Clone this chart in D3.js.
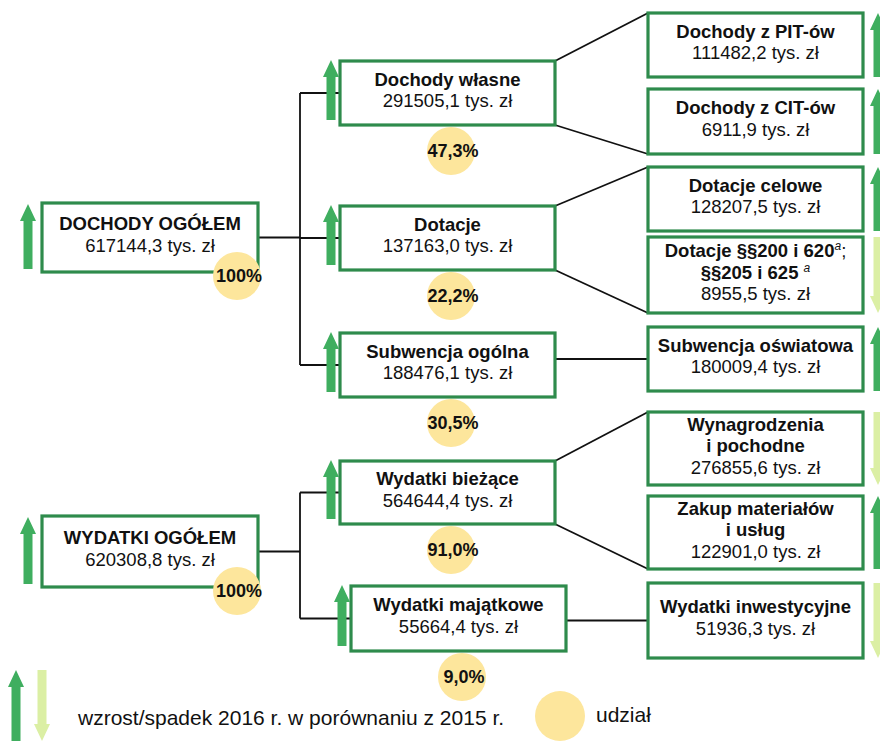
<!DOCTYPE html>
<meta charset="utf-8">
<script src="https://d3js.org/d3.v7.min.js"></script>
<style type="text/css">
  body { margin: 0; background: #fff; }
  text { font-family: "Liberation Sans", Arial, sans-serif; fill: #111; }
</style>
<body>
</body>
<script>

// ---- data: budget tree, values in tys. zł, share in % ----
var totalNames = ["DOCHODY OGÓŁEM", "WYDATKI OGÓŁEM"];
var totalValues = [617144.3, 620308.8];
var totalShares = [100, 100];
var totalTrend = ["up", "up"];

var groupNames = ["Dochody własne", "Dotacje", "Subwencja ogólna", "Wydatki bieżące", "Wydatki majątkowe"];
var groupValues = [291505.1, 137163.0, 188476.1, 564644.4, 55664.4];
var groupShares = [47.3, 22.2, 30.5, 91.0, 9.0];
var groupTrend = ["up", "up", "up", "up", "up"];
var groupParent = [0, 0, 0, 1, 1];

// each name is a list of lines; [text, "sup"] marks a superscript footnote
var itemNames = [
  ["Dochody z PIT-ów"],
  ["Dochody z CIT-ów"],
  ["Dotacje celowe"],
  [[["Dotacje §§200 i 620"], ["a", "sup"], [";", "thin"]], [["§§205 i 625 "], ["a", "sup"]]],
  ["Subwencja oświatowa"],
  ["Wynagrodzenia", "i pochodne"],
  ["Zakup materiałów", "i usług"],
  ["Wydatki inwestycyjne"]
];
var itemValues = [111482.2, 6911.9, 128207.5, 8955.5, 180009.4, 276855.6, 122901.0, 51936.3];
var itemTrend = ["up", "up", "up", "down", "up", "down", "up", "down"];
var itemParent = [0, 0, 1, 1, 2, 3, 3, 4];

var legendTrendText = "wzrost/spadek 2016 r. w porównaniu z 2015 r.";
var legendShareText = "udział";

// ---- layout (box frames of the diagram) ----
var width = 880, height = 741;
var boxW = 215;
var col1X = 42, col2X = [340, 340, 340, 340, 351], col3X = 648;
var spineX = 300;
var col1Rows = [[203, 69], [516, 71]];
var col2Rows = [[61, 64], [206, 64], [333, 64], [461, 63], [586, 65]];
var col3Rows = [[13, 64], [89, 65], [167, 64], [237, 76], [327, 64], [412, 73], [496, 73], [583, 75]];

var green = "#2e8b4c", upColor = "#3fae5f", downColor = "#dbefa4", shareColor = "#fde69c";

var pl = d3.formatLocale({decimal: ",", thousands: " ", grouping: [3], currency: ["", " zł"]});
var fmtValue = function(v) { return pl.format(".1f")(v) + " tys. zł"; };
var fmtShare = function(v) { return (v === 100 ? pl.format(".0f")(v) : pl.format(".1f")(v)) + "%"; };

var svg = d3.select("body").append("svg")
  .attr("width", width)
  .attr("height", height);

// build node lists
var level1 = totalNames.map(function(n, i) {
  return {name: [n], value: totalValues[i], share: totalShares[i], trend: totalTrend[i],
    x: col1X, y: col1Rows[i][0], h: col1Rows[i][1], w: boxW + 1};
});
var level2 = groupNames.map(function(n, i) {
  return {name: [n], value: groupValues[i], share: groupShares[i], trend: groupTrend[i], parent: groupParent[i],
    x: col2X[i], y: col2Rows[i][0], h: col2Rows[i][1], w: boxW};
});
var level3 = itemNames.map(function(n, i) {
  return {name: n, value: itemValues[i], trend: itemTrend[i], parent: itemParent[i],
    x: col3X, y: col3Rows[i][0], h: col3Rows[i][1], w: boxW};
});

var cy = function(d) { return d.y + d.h / 2; };

// ---- connectors ----
var links = svg.append("g")
  .attr("stroke", "#111")
  .attr("stroke-width", 1.8)
  .attr("fill", "none");

level1.forEach(function(p, pi) {
  var kids = level2.filter(function(d) { return d.parent === pi; });
  links.append("line")
    .attr("x1", p.x + p.w).attr("x2", spineX)
    .attr("y1", cy(p)).attr("y2", cy(p));
  links.append("line")
    .attr("x1", spineX).attr("x2", spineX)
    .attr("y1", cy(kids[0])).attr("y2", cy(kids[kids.length - 1]));
  kids.forEach(function(k) {
    links.append("line")
      .attr("x1", spineX).attr("x2", k.x)
      .attr("y1", cy(k)).attr("y2", cy(k));
  });
});

level2.forEach(function(p, pi) {
  var kids = level3.filter(function(d) { return d.parent === pi; });
  if (kids.length === 1) {
    links.append("line")
      .attr("x1", p.x + p.w).attr("x2", kids[0].x)
      .attr("y1", cy(kids[0])).attr("y2", cy(kids[0]));
  } else {
    var a = kids[0], b = kids[kids.length - 1];
    links.append("line")
      .attr("x1", p.x + p.w).attr("y1", p.y)
      .attr("x2", a.x).attr("y2", a.y);
    links.append("line")
      .attr("x1", p.x + p.w).attr("y1", p.y + p.h)
      .attr("x2", b.x).attr("y2", b.y + b.h);
  }
});

// ---- boxes ----
var allNodes = level1.concat(level2, level3);

svg.append("g").selectAll("rect")
  .data(allNodes)
  .enter().append("rect")
  .attr("x", function(d) { return d.x; })
  .attr("y", function(d) { return d.y; })
  .attr("width", function(d) { return d.w; })
  .attr("height", function(d) { return d.h; })
  .attr("fill", "#fff")
  .attr("stroke", green)
  .attr("stroke-width", 3.2);

// ---- trend arrows ----
function arrowPath(cx, y0, y1, dir) {
  var bw = 9, hw = 16, hh = 17;
  var p;
  if (dir === "up") {
    p = [[cx, y0], [cx + hw / 2, y0 + hh], [cx + bw / 2, y0 + hh], [cx + bw / 2, y1],
         [cx - bw / 2, y1], [cx - bw / 2, y0 + hh], [cx - hw / 2, y0 + hh]];
  } else {
    p = [[cx, y1], [cx + hw / 2, y1 - hh], [cx + bw / 2, y1 - hh], [cx + bw / 2, y0],
         [cx - bw / 2, y0], [cx - bw / 2, y1 - hh], [cx - hw / 2, y1 - hh]];
  }
  return d3.line()(p) + "Z";
}

var arrows = svg.append("g");
level1.forEach(function(d) {
  arrows.append("path").attr("d", arrowPath(d.x - 14, d.y + 1, d.y + d.h - 3, d.trend))
    .attr("fill", d.trend === "up" ? upColor : downColor);
});
level2.forEach(function(d) {
  arrows.append("path").attr("d", arrowPath(d.x - 9, d.y - 1, d.y + d.h - 5, d.trend))
    .attr("fill", d.trend === "up" ? upColor : downColor);
});
level3.forEach(function(d) {
  arrows.append("path").attr("d", arrowPath(d.x + d.w + 15, d.y, d.y + d.h, d.trend))
    .attr("fill", d.trend === "up" ? upColor : downColor);
});

// ---- share circles ----
var shareNodes = level1.map(function(d) {
  return {cx: d.x + d.w - 21, cy: d.y + d.h + 4, share: d.share};
}).concat(level2.map(function(d) {
  return {cx: d.x + 111, cy: d.y + d.h + 26, share: d.share};
}));

var shares = svg.append("g").selectAll("g")
  .data(shareNodes)
  .enter().append("g");
shares.append("circle")
  .attr("cx", function(d) { return d.cx; })
  .attr("cy", function(d) { return d.cy; })
  .attr("r", 24)
  .attr("fill", shareColor);
shares.append("text")
  .attr("x", function(d) { return d.cx + 2; })
  .attr("y", function(d) { return d.cy; })
  .attr("dy", "0.33em")
  .attr("text-anchor", "middle")
  .style("font-weight", "bold")
  .style("font-size", "18px")
  .text(function(d) { return fmtShare(d.share); });

// ---- box labels ----
var lineH = 21.5;
allNodes.forEach(function(d) {
  var lines = d.name.slice();
  var n = lines.length + 1;
  var t = svg.append("text")
    .attr("text-anchor", "middle")
    .style("font-size", "18.5px");
  var base = cy(d) - (n - 1) * lineH / 2 + 3.5;
  lines.forEach(function(line, i) {
    var y = base + i * lineH;
    if (typeof line === "string") {
      t.append("tspan").attr("x", d.x + d.w / 2).attr("y", y)
        .style("font-weight", "bold").text(line);
    } else {
      // rich line with superscripts
      var row = svg.append("text")
        .attr("x", d.x + d.w / 2).attr("y", y)
        .attr("text-anchor", "middle")
        .style("font-size", "18.5px");
      line.forEach(function(part) {
        var s = row.append("tspan").text(part[0]);
        if (part[1] === "sup") {
          s.style("font-size", "12px").style("font-style", "italic")
            .attr("baseline-shift", "super");
        } else if (part[1] === "thin") {
          s.style("font-weight", "normal");
        } else {
          s.style("font-weight", "bold");
        }
      });
    }
  });
  t.append("tspan").attr("x", d.x + d.w / 2).attr("y", base + lines.length * lineH)
    .text(fmtValue(d.value));
});

// ---- legend ----
var legend = svg.append("g");
legend.append("path").attr("d", arrowPath(16, 670, 745, "up")).attr("fill", upColor);
legend.append("path").attr("d", arrowPath(42, 670, 741, "down")).attr("fill", downColor);
legend.append("text")
  .attr("x", 78).attr("y", 725)
  .style("font-size", "21px")
  .text(legendTrendText);
legend.append("circle")
  .attr("cx", 560).attr("cy", 716).attr("r", 25)
  .attr("fill", shareColor);
legend.append("text")
  .attr("x", 596).attr("y", 722)
  .style("font-size", "21px")
  .text(legendShareText);

</script>
